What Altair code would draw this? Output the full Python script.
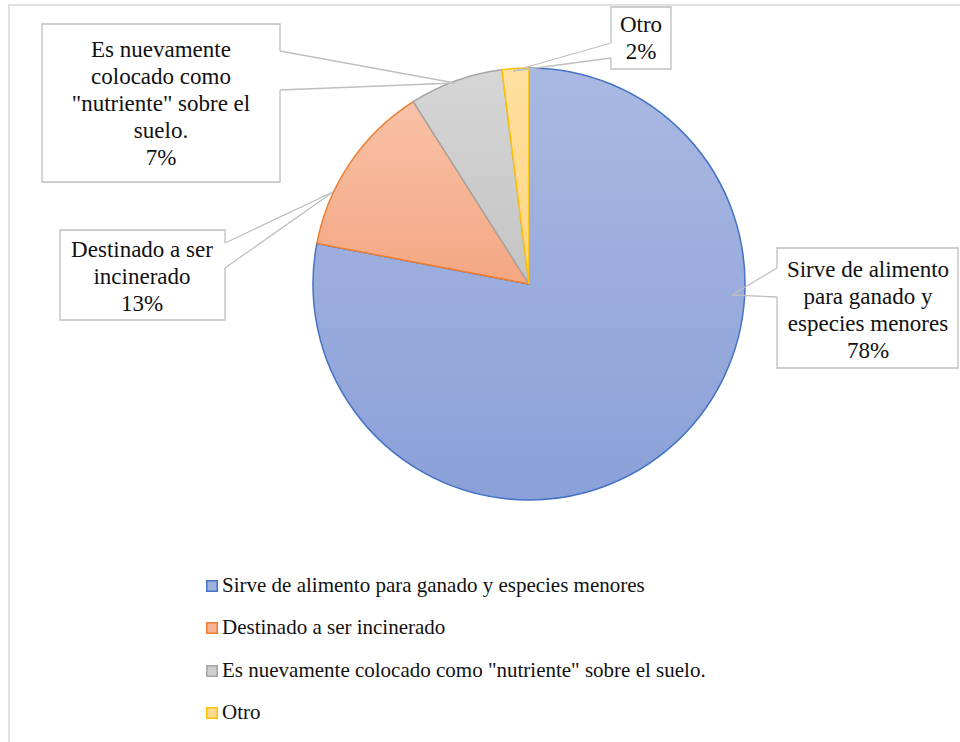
import altair as alt
import pandas as pd

# ---------------- data ----------------
CATEGORIES = [
    "Sirve de alimento para ganado y especies menores",
    "Destinado a ser incinerado",
    'Es nuevamente colocado como "nutriente" sobre el suelo.',
    "Otro",
]
VALUES = [78, 13, 7, 2]
PCT_LABELS = ["78%", "13%", "7%", "2%"]
LABEL_LINES = [
    ["Sirve de alimento", "para ganado y", "especies menores"],
    ["Destinado a ser", "incinerado"],
    ["Es nuevamente", "colocado como", '"nutriente" sobre el', "suelo."],
    ["Otro"],
]

# ---------------- styles ----------------
FILL_TOP = ["#aab9e2", "#f8c2a7", "#d6d6d6", "#ffe0a0"]
FILL_BOTTOM = ["#8aa0d8", "#f4a682", "#c4c4c4", "#ffd583"]
LEGEND_FILL = ["#9fb1df", "#f6b396", "#cdcdcd", "#ffdb92"]
STROKES = ["#4472c4", "#ed7d31", "#a5a5a5", "#ffc000"]
FONT = "Liberation Serif"
BOX_GRAY = "#bfbfbf"

# ---------------- layout (pixels) ----------------
W, H = 960, 742
PIE_CX, PIE_CY, PIE_R = 529, 284, 216
BOXES = [(777, 248, 958, 368), (60, 230, 225, 320), (42, 24, 280, 182), (611, 7, 671, 69)]
TEXT_ANCHOR = [(868, 270), (142, 250), (161, 50), (641, 25)]
LINE_HEIGHT = 27
ATTACH = [((777, 268), (777, 297)), ((225, 243), (225, 268)),
          ((280, 51), (280, 90)), ((611, 43), (611, 58))]
TIPS = [(732, 295), (333, 192), (455, 83), (513, 71)]
LEGEND_X = 212
LEGEND_Y = [586, 628, 671, 713]

xs = alt.Scale(domain=[0, W], range=[0, W], nice=False, zero=False)
ys = alt.Scale(domain=[0, H], range=[0, H], nice=False, zero=False)


def X(f):
    return alt.X(f, type="quantitative", scale=xs, axis=None)


def Y(f):
    return alt.Y(f, type="quantitative", scale=ys, axis=None)


pie_df = pd.DataFrame({"cat": CATEGORIES, "value": VALUES, "idx": list(range(len(VALUES)))})
pie_base = alt.Chart(pie_df).transform_window(
    end="sum(value)", sort=[alt.SortField("idx")], frame=[None, 0]
).transform_calculate(start="datum.end - datum.value")

theta_scale = alt.Scale(domain=[0, sum(VALUES)], range=[0, 6.283185307179586])
pie_layers = []
for i, c in enumerate(CATEGORIES):
    grad = {
        "gradient": "linear", "x1": 0, "y1": 0, "x2": 0, "y2": 1,
        "stops": [{"offset": 0, "color": FILL_TOP[i]}, {"offset": 1, "color": FILL_BOTTOM[i]}],
    }
    layer = pie_base.transform_filter(alt.datum.idx == i).mark_arc(
        outerRadius=PIE_R, fill=grad, stroke=STROKES[i], strokeWidth=1.5
    ).encode(
        theta=alt.Theta("start:Q", scale=theta_scale),
        theta2="end:Q",
        x=alt.value(PIE_CX),
        y=alt.value(PIE_CY),
    )
    pie_layers.append(layer)

frame = alt.Chart(pd.DataFrame({"x": [9], "x2": [W + 20], "y": [5], "y2": [H + 20]})).mark_rect(
    fill="white", fillOpacity=0, stroke="#d9d9d9", strokeWidth=1.5
).encode(x=X("x"), x2="x2", y=Y("y"), y2="y2")

box_df = pd.DataFrame({
    "x0": [b[0] for b in BOXES], "y0": [b[1] for b in BOXES],
    "x1": [b[2] for b in BOXES], "y1": [b[3] for b in BOXES],
})
boxes = alt.Chart(box_df).mark_rect(fill="white", stroke=BOX_GRAY, strokeWidth=1.3).encode(
    x=X("x0"), x2="x1", y=Y("y0"), y2="y1"
)

erase_df = pd.DataFrame({
    "xa": [a[0][0] for a in ATTACH], "ya": [a[0][1] for a in ATTACH],
    "xb": [a[1][0] for a in ATTACH], "yb": [a[1][1] for a in ATTACH],
})
erase = alt.Chart(erase_df).mark_rule(color="white", strokeWidth=3).encode(
    x=X("xa"), x2="xb", y=Y("ya"), y2="yb"
)

ptr_rows = []
for a, t in zip(ATTACH, TIPS):
    for p in a:
        ptr_rows.append({"xa": p[0], "ya": p[1], "xt": t[0], "yt": t[1]})
pointers = alt.Chart(pd.DataFrame(ptr_rows)).mark_rule(color=BOX_GRAY, strokeWidth=1.3).encode(
    x=X("xa"), x2="xt", y=Y("ya"), y2="yt"
)

label_df = pd.DataFrame({
    "label": ["\n".join(LABEL_LINES[i] + [PCT_LABELS[i]]) for i in range(len(CATEGORIES))],
    "cx": [c[0] for c in TEXT_ANCHOR],
    "cy": [c[1] for c in TEXT_ANCHOR],
})
labels = alt.Chart(label_df).mark_text(
    font=FONT, fontSize=23, lineBreak="\n", lineHeight=LINE_HEIGHT, align="center",
    baseline="middle", color="#111111"
).encode(x=X("cx"), y=Y("cy"), text="label:N")

leg_df = pd.DataFrame({"cat": CATEGORIES, "ly": LEGEND_Y, "lx": [LEGEND_X] * len(CATEGORIES),
                       "tx": [LEGEND_X + 10] * len(CATEGORIES)})
leg_sq = alt.Chart(leg_df).mark_square(size=110, strokeWidth=1.5, opacity=1).encode(
    x=X("lx"), y=Y("ly"),
    fill=alt.Fill("cat:N", scale=alt.Scale(domain=CATEGORIES, range=LEGEND_FILL), legend=None),
    stroke=alt.Stroke("cat:N", scale=alt.Scale(domain=CATEGORIES, range=STROKES), legend=None),
)
leg_txt = alt.Chart(leg_df).mark_text(
    font=FONT, fontSize=21, align="left", baseline="middle", color="#111111"
).encode(x=X("tx"), y=Y("ly"), text="cat:N")

chart = alt.layer(
    frame, *pie_layers, boxes, erase, pointers, labels, leg_sq, leg_txt
).properties(
    width=W, height=H, padding=0, autosize=alt.AutoSizeParams(type="none"), background="white"
).configure(font=FONT).configure_text(font=FONT).configure_view(stroke=None)

chart.save("out.html", embed_options={"renderer": "svg", "actions": False})
